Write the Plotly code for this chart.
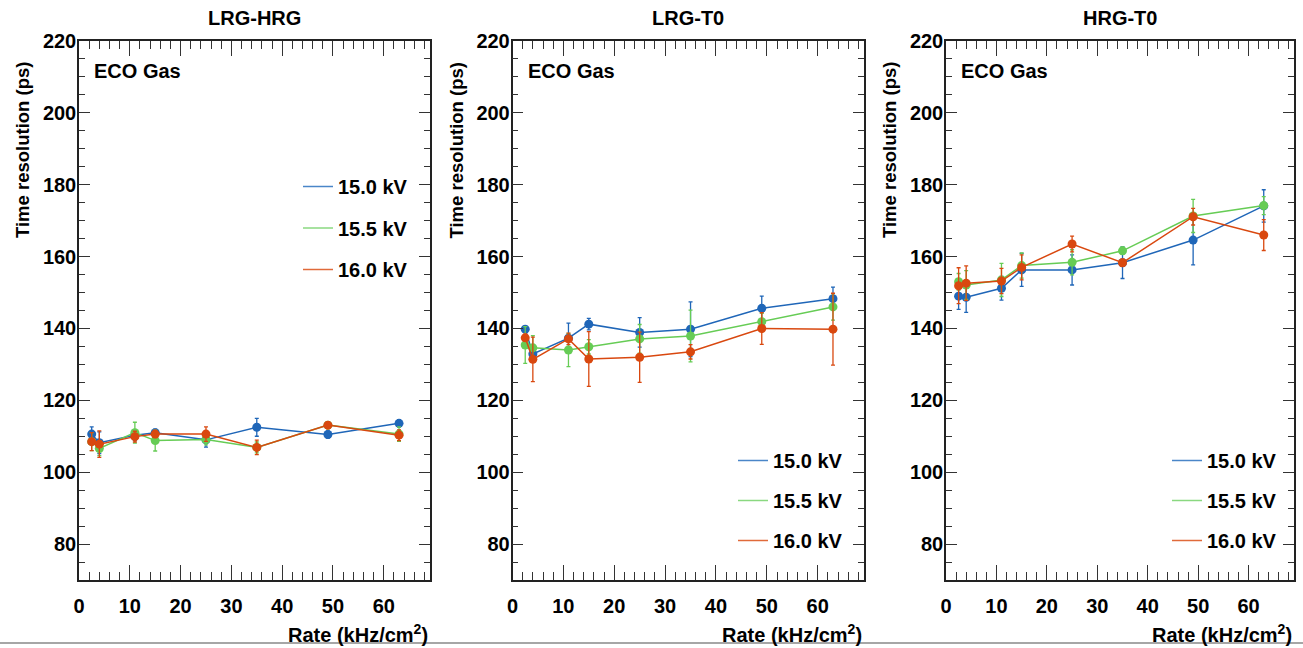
import plotly.graph_objects as go

# ---------------- data ----------------
rate = [2.5, 4, 11, 15, 25, 35, 49, 63]
voltages = ["15.0 kV", "15.5 kV", "16.0 kV"]
panel_titles = ["LRG-HRG", "LRG-T0", "HRG-T0"]

# LRG-HRG
lrg_hrg_150 = [110.6, 108.2, 110.3, 111.0, 109.0, 112.5, 110.5, 113.6]
lrg_hrg_150_err = [2.0, 3.0, 1.5, 1.0, 2.0, 2.5, 1.0, 1.0]
lrg_hrg_155 = [108.5, 106.6, 111.0, 108.8, 109.1, 106.9, 113.1, 110.6]
lrg_hrg_155_err = [2.5, 2.0, 2.9, 2.9, 1.5, 1.5, 1.0, 2.0]
lrg_hrg_160 = [108.5, 107.8, 109.9, 110.6, 110.6, 106.9, 113.1, 110.3]
lrg_hrg_160_err = [2.5, 3.7, 1.5, 1.0, 2.0, 2.0, 1.0, 1.5]

# LRG-T0
lrg_t0_150 = [139.8, 132.9, 137.3, 141.2, 138.9, 139.8, 145.6, 148.3]
lrg_t0_150_err = [0.8, 1.5, 4.2, 1.6, 4.1, 7.6, 3.4, 3.2]
lrg_t0_155 = [135.4, 134.6, 134.0, 134.9, 137.1, 137.9, 141.9, 146.0]
lrg_t0_155_err = [5.1, 3.4, 4.6, 2.0, 4.0, 7.2, 2.3, 3.7]
lrg_t0_160 = [137.4, 131.4, 137.1, 131.5, 132.0, 133.5, 140.0, 139.8]
lrg_t0_160_err = [1.0, 6.2, 1.6, 7.6, 7.0, 2.0, 4.4, 10.0]

# HRG-T0
hrg_t0_150 = [149.0, 148.7, 151.2, 156.3, 156.3, 158.3, 164.6, 174.1]
hrg_t0_150_err = [3.7, 4.2, 3.3, 4.6, 4.2, 4.4, 6.9, 4.5]
hrg_t0_155 = [153.0, 152.1, 153.5, 157.5, 158.4, 161.6, 171.3, 174.2]
hrg_t0_155_err = [2.3, 4.0, 4.6, 3.5, 3.5, 1.0, 4.6, 2.5]
hrg_t0_160 = [151.9, 152.6, 153.2, 157.0, 163.5, 158.3, 171.1, 166.0]
hrg_t0_160_err = [5.0, 4.8, 3.5, 3.5, 2.2, 1.0, 2.3, 4.3]

panels = [
    [(lrg_hrg_150, lrg_hrg_150_err), (lrg_hrg_155, lrg_hrg_155_err), (lrg_hrg_160, lrg_hrg_160_err)],
    [(lrg_t0_150, lrg_t0_150_err), (lrg_t0_155, lrg_t0_155_err), (lrg_t0_160, lrg_t0_160_err)],
    [(hrg_t0_150, hrg_t0_150_err), (hrg_t0_155, hrg_t0_155_err), (hrg_t0_160, hrg_t0_160_err)],
]

colors = ["#1f66b8", "#66cc55", "#d9480f"]
legend_colors = ["#4a86c8", "#8ad880", "#e06a3a"]

# ---------------- layout geometry ----------------
W, H = 1303, 648
x_dom_px = [(79, 429.5), (512.5, 863.5), (946, 1294)]
y_dom_px = (41, 580)
legend_pos_px = [(298, 167), (733, 441), (1167, 441)]
legend_gaps = [12.5, 11, 11]

FONT = "Liberation Sans, Arial, sans-serif"
FS = 20

fig = go.Figure()

for p, series in enumerate(panels):
    ax = "" if p == 0 else str(p + 1)
    leg = "legend" if p == 0 else "legend%d" % (p + 1)
    for s, (vals, errs) in enumerate(series):
        fig.add_trace(go.Scatter(
            x=rate, y=vals,
            mode="lines+markers",
            line=dict(color=colors[s], width=1.5),
            marker=dict(color=colors[s], size=9, symbol="circle"),
            error_y=dict(type="data", array=errs, visible=True,
                         color=colors[s], thickness=1.3, width=2),
            xaxis="x" + ax, yaxis="y" + ax,
            showlegend=False,
        ))
    for s in range(3):
        fig.add_trace(go.Scatter(
            x=[None], y=[None], mode="lines",
            line=dict(color=legend_colors[s], width=1.5),
            name=voltages[s],
            legend=leg, legendgroup="g%d_%d" % (p, s),
            xaxis="x" + ax, yaxis="y" + ax,
            showlegend=True,
        ))

layout = dict(
    width=W, height=H,
    margin=dict(l=0, r=0, t=0, b=0, pad=0, autoexpand=False),
    paper_bgcolor="white", plot_bgcolor="white",
    font=dict(family=FONT, size=FS, color="black"),
)

annotations = []
shapes = []
for p in range(3):
    ax = "" if p == 0 else str(p + 1)
    x0, x1 = x_dom_px[p]
    xdom = [x0 / W, x1 / W]
    ydom = [1 - y_dom_px[1] / H, 1 - y_dom_px[0] / H]
    common_line = dict(showline=True, linecolor="#222", linewidth=1.5, mirror="ticks",
                       showgrid=False, zeroline=False, tickcolor="#333", tickwidth=1.2,
                       automargin=False,
                       tickfont=dict(family=FONT, size=FS, color="black", weight="bold"))
    layout["xaxis" + ax] = dict(
        domain=xdom, range=[0, 69], anchor="y" + ax,
        tickmode="linear", tick0=0, dtick=10, ticks="inside", ticklen=15,
        minor=dict(dtick=2, ticks="inside", ticklen=8, tickcolor="#333", tickwidth=1.2, showgrid=False),
        ticklabelstandoff=7,
        **common_line,
    )
    layout["yaxis" + ax] = dict(
        domain=ydom, range=[70, 220], anchor="x" + ax,
        tickmode="linear", tick0=0, dtick=20, ticks="inside", ticklen=11,
        minor=dict(dtick=5, ticks="inside", ticklen=6, tickcolor="#333", tickwidth=1.2, showgrid=False),
        ticklabelstandoff=-3,
        **common_line,
    )
    leg = "legend" if p == 0 else "legend%d" % (p + 1)
    lx, ly = legend_pos_px[p]
    layout[leg] = dict(
        x=lx / W, y=1 - ly / H, xanchor="left", yanchor="top",
        bgcolor="rgba(0,0,0,0)", borderwidth=0,
        font=dict(family=FONT, size=FS, color="black", weight="bold"),
        tracegroupgap=legend_gaps[p], itemwidth=30,
    )
    # panel title
    annotations.append(dict(
        text="<b>%s</b>" % panel_titles[p], x=(xdom[0] + xdom[1]) / 2, y=1 - 18 / H,
        xref="paper", yref="paper", xanchor="center", yanchor="middle",
        showarrow=False, font=dict(family=FONT, size=FS, color="black"),
    ))
    # ECO Gas
    annotations.append(dict(
        text="<b>ECO Gas</b>", x=(x0 + 13) / W, y=1 - 71 / H,
        xref="paper", yref="paper", xanchor="left", yanchor="middle",
        showarrow=False, font=dict(family=FONT, size=FS, color="black"),
    ))
    # y title
    annotations.append(dict(
        text="<b>Time resolution (ps)</b>", x=(x0 - 57) / W, y=1 - 150 / H,
        xref="paper", yref="paper", xanchor="center", yanchor="middle",
        textangle=-90, showarrow=False, font=dict(family=FONT, size=18.5, color="black"),
    ))
    # x title
    annotations.append(dict(
        text="<b>Rate (kHz/cm<sup>2</sup>)</b>", x=x1 / W, y=1 - 633 / H,
        xref="paper", yref="paper", xanchor="right", yanchor="middle",
        showarrow=False, font=dict(family=FONT, size=FS, color="black"),
    ))

shapes.append(dict(type="line", xref="paper", yref="paper", x0=0, x1=1,
                   y0=1 - 643 / H, y1=1 - 643 / H, line=dict(color="#888", width=1.5)))

layout["annotations"] = annotations
layout["shapes"] = shapes
fig.update_layout(**layout)

fig.write_html(
    "out.html",
    config={"displayModeBar": False},
    post_script="document.body.style.margin='0';document.body.style.padding='0';"
                "document.body.style.overflow='hidden';",
)
